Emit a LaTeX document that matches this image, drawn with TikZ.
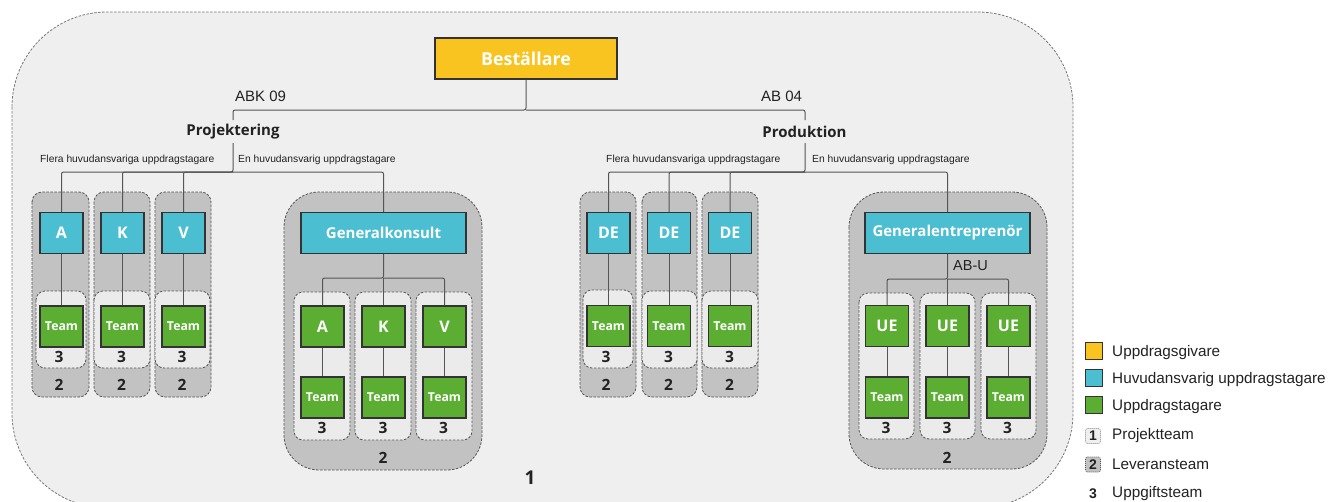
\documentclass[tikz,border=0pt]{standalone}
\usepackage{fontspec}
\setmainfont{Liberation Sans}
\newfontfamily\os{Open Sans}
\definecolor{yel}{HTML}{F9C41F}
\definecolor{blu}{HTML}{4BBED1}
\definecolor{grn}{HTML}{5BAE32}
\definecolor{outerfill}{HTML}{EFEFEF}
\definecolor{grayfill}{HTML}{C2C2C2}
\definecolor{lightfill}{HTML}{EBEBEB}
\definecolor{bord}{HTML}{333333}
\definecolor{lin}{HTML}{555555}
\definecolor{txt}{HTML}{222222}
\tikzset{
  box/.style={draw=bord, line width=1.3pt, inner sep=0pt, text=white,
    font=\os\bfseries\fontsize{15}{15}\selectfont, minimum height=41pt},
  ubox/.style={box, minimum width=43pt, font=\os\bfseries\fontsize{16}{16}\selectfont},
  wbox/.style={box, minimum width=165pt},
  teambox/.style={ubox, fill=grn, font=\os\bfseries\fontsize{12.3}{13}\selectfont},
  levbox/.style={draw=lin, line width=0.8pt, dash pattern=on 2.5pt off 1.5pt, fill=grayfill},
  uppbox/.style={draw=lin, line width=0.8pt, dash pattern=on 2.5pt off 1.5pt, fill=lightfill, rounded corners=9pt},
  num/.style={inner sep=0pt, text=txt, font=\os\bfseries\fontsize{15.5}{15.5}\selectfont},
  conn/.style={draw=lin, line width=1pt, rounded corners=2pt},
  smalllbl/.style={inner sep=0pt, text=txt, font=\fontsize{10.3}{11}\selectfont},
  lbl/.style={inner sep=0pt, text=txt, font=\fontsize{15}{16}\selectfont},
  leglbl/.style={lbl, font=\fontsize{15.3}{16}\selectfont},
  phase/.style={inner sep=0pt, text=txt, font=\os\bfseries\fontsize{15}{15}\selectfont},
  legsq/.style={draw=bord, line width=1pt, minimum width=17pt, minimum height=17pt, inner sep=0pt},
  legnum/.style={inner sep=0pt, text=txt, font=\bfseries\fontsize{14}{14}\selectfont, minimum width=15pt, minimum height=15pt, rounded corners=2pt},
}
\begin{document}
\begin{tikzpicture}[x=1pt,y=-1pt]
\useasboundingbox (0,0) rectangle (1338,501);
\fill[white] (0,0) rectangle (1338,501);
% outer project team
\begin{scope}
\clip (0,0) rectangle (1338,501);
\draw[fill=outerfill, draw=lin!80, line width=0.8pt, dash pattern=on 2.5pt off 1.5pt, rounded corners=95pt] (12,12) rectangle (1073,508);
\end{scope}
\node[num, font=\os\bfseries\fontsize{19}{19}\selectfont] (n1) at (530,478) {1};

% top
\node[box, fill=yel, minimum width=182pt, font=\os\bfseries\fontsize{17.8}{18}\selectfont] (best) at (526,58.5) {Beställare};
\coordinate (split) at (526,110);
\coordinate (pjtop) at (233,120);
\coordinate (prtop) at (805,120);
\draw[conn] (best.south) -- (split) -| (pjtop);
\draw[conn] (split) -| (prtop);
\node[lbl, anchor=west] (abk) at (235,96) {ABK 09};
\node[lbl, anchor=west] (ab04) at (761,96) {AB 04};
\node[phase] (proj) at (233,132) {Projektering};
\node[phase] (prod) at (804.5,132) {Produktion};
\coordinate (pjbot) at (233,143);
\coordinate (pjsplit) at (233,172);
\coordinate (prbot) at (805,143);
\coordinate (prsplit) at (805,172);
\node[smalllbl, anchor=west] (fl1) at (40,160) {Flera huvudansvariga uppdragstagare};
\node[smalllbl, anchor=west] (en1) at (238,160) {En huvudansvarig uppdragstagare};
\node[smalllbl, anchor=west] (fl2) at (606,160) {Flera huvudansvariga uppdragstagare};
\node[smalllbl, anchor=west] (en2) at (812,160) {En huvudansvarig uppdragstagare};

% ---------- left: three separate deliveries
\draw[levbox, rounded corners=10pt] (32,192) rectangle (89,397);
\draw[levbox, rounded corners=10pt] (94,192) rectangle (150,397);
\draw[levbox, rounded corners=10pt] (155,192) rectangle (211,397);
\draw[uppbox] (36,291) rectangle (86,368);
\draw[uppbox] (94,291) rectangle (150,368);
\draw[uppbox] (155,291) rectangle (210,368);
\node[ubox, fill=blu] (pA) at (61.5,233) {A};
\node[ubox, fill=blu] (pK) at (122.5,233) {K};
\node[ubox, fill=blu] (pV) at (183.5,233) {V};
\node[teambox] (tA) at (61.5,326.5) {Team};
\node[teambox] (tK) at (122.5,326.5) {Team};
\node[teambox] (tV) at (183.5,326.5) {Team};
\draw[conn] (pA) -- (tA);
\draw[conn] (pK) -- (tK);
\draw[conn] (pV) -- (tV);
\node[num] (u1) at (59,357) {3};
\node[num] (u2) at (121.5,357) {3};
\node[num] (u3) at (182,357) {3};
\node[num] (l1) at (59,385) {2};
\node[num] (l2) at (121.5,385) {2};
\node[num] (l3) at (182,385) {2};

% ---------- Generalkonsult
\draw[levbox, rounded corners=35pt] (284,192) rectangle (482,470);
\draw[uppbox] (294,292) rectangle (350,440);
\draw[uppbox] (355,292) rectangle (411,440);
\draw[uppbox] (416,292) rectangle (472,440);
\node[wbox, fill=blu] (gk) at (383.5,233) {Generalkonsult};
\node[ubox, fill=grn] (gA) at (322.5,326.5) {A};
\node[ubox, fill=grn] (gK) at (383.5,326.5) {K};
\node[ubox, fill=grn] (gV) at (444.5,326.5) {V};
\node[teambox] (gtA) at (322.5,397.5) {Team};
\node[teambox] (gtK) at (383.5,397.5) {Team};
\node[teambox] (gtV) at (444.5,397.5) {Team};
\coordinate (gksplit) at (383.5,278);
\draw[conn] (gk.south) -- (gksplit) -| (gA.north);
\draw[conn] (gksplit) -| (gV.north);
\draw[conn] (gksplit) -- (gK.north);
\draw[conn] (gA) -- (gtA);
\draw[conn] (gK) -- (gtK);
\draw[conn] (gV) -- (gtV);
\node[num] (gu1) at (322,428) {3};
\node[num] (gu2) at (383,428) {3};
\node[num] (gu3) at (443.5,428) {3};
\node[num] (gl) at (383,458) {2};

% projektering connectors
\draw[conn] (pjbot) -- (pjsplit) -| (pA.north);
\draw[conn] (pjsplit) -| (pK.north);
\draw[conn] (pjsplit) -| (pV.north);
\draw[conn] (pjsplit) -| (gk.north);

% ---------- right: DE
\draw[levbox, rounded corners=10pt] (580,192) rectangle (636,397);
\draw[levbox, rounded corners=10pt] (642,192) rectangle (697,397);
\draw[levbox, rounded corners=10pt] (702,192) rectangle (758,397);
\draw[uppbox] (583,290) rectangle (633,368);
\draw[uppbox] (642,291) rectangle (697,368);
\draw[uppbox] (702,291) rectangle (758,368);
\node[ubox, fill=blu] (d1) at (608.5,233) {DE};
\node[ubox, fill=blu] (d2) at (669,233) {DE};
\node[ubox, fill=blu] (d3) at (730,233) {DE};
\node[teambox] (dt1) at (608.5,326) {Team};
\node[teambox] (dt2) at (669,326) {Team};
\node[teambox] (dt3) at (730,326) {Team};
\draw[conn] (d1) -- (dt1);
\draw[conn] (d2) -- (dt2);
\draw[conn] (d3) -- (dt3);
\node[num] (du1) at (606,357) {3};
\node[num] (du2) at (668.5,357) {3};
\node[num] (du3) at (729.5,357) {3};
\node[num] (dl1) at (606,385) {2};
\node[num] (dl2) at (668.5,385) {2};
\node[num] (dl3) at (729.5,385) {2};

% ---------- Generalentreprenor
\draw[levbox, rounded corners=35pt] (849,192) rectangle (1047,469);
\draw[uppbox] (859,293) rectangle (914,439);
\draw[uppbox] (920,293) rectangle (975,439);
\draw[uppbox] (981,293) rectangle (1036,439);
\node[wbox, fill=blu] (ge) at (947.5,233) {Generalentreprenör};
\node[ubox, fill=grn] (ue1) at (887,326) {UE};
\node[ubox, fill=grn] (ue2) at (947.5,326) {UE};
\node[ubox, fill=grn] (ue3) at (1008.5,326) {UE};
\node[teambox] (et1) at (887,397.5) {Team};
\node[teambox] (et2) at (947.5,397.5) {Team};
\node[teambox] (et3) at (1008.5,397.5) {Team};
\coordinate (gesplit) at (947.5,279);
\draw[conn] (ge.south) -- (gesplit) -| (ue1.north);
\draw[conn] (gesplit) -| (ue3.north);
\draw[conn] (gesplit) -- (ue2.north);
\draw[conn] (ue1) -- (et1);
\draw[conn] (ue2) -- (et2);
\draw[conn] (ue3) -- (et3);
\node[lbl, anchor=west, font=\fontsize{14.5}{15}\selectfont] (abu) at (953,266) {AB-U};
\node[num] (eu1) at (886,428) {3};
\node[num] (eu2) at (947,428) {3};
\node[num] (eu3) at (1007.5,428) {3};
\node[num] (el) at (947,458) {2};

% produktion connectors
\draw[conn] (prbot) -- (prsplit) -| (d1.north);
\draw[conn] (prsplit) -| (d2.north);
\draw[conn] (prsplit) -| (d3.north);
\draw[conn] (prsplit) -| (ge.north);

% ---------- legend
\node[legsq, fill=yel] (ly) at (1093.5,350.5) {};
\node[legsq, fill=blu] (lb) at (1093.5,377.5) {};
\node[legsq, fill=grn] (lg) at (1093.5,404.5) {};
\node[legnum, draw=lin!70, fill=outerfill, dash pattern=on 1pt off 1pt, line width=0.6pt] (lp) at (1093,436) {1};
\node[legnum, draw=lin, fill=grayfill, dash pattern=on 1pt off 1pt, line width=0.6pt] (ll) at (1093,464.5) {2};
\node[legnum] (lu) at (1093,494) {3};
\node[leglbl, anchor=west] (tly) at (1112,353) {Uppdragsgivare};
\node[leglbl, anchor=west] (tlb) at (1112,380) {Huvudansvarig uppdragstagare};
\node[leglbl, anchor=west] (tlg) at (1112,407) {Uppdragstagare};
\node[leglbl, anchor=west] (tlp) at (1112,435.5) {Projektteam};
\node[leglbl, anchor=west] (tll) at (1112,464) {Leveransteam};
\node[leglbl, anchor=west] (tlu) at (1112,494) {Uppgiftsteam};
\end{tikzpicture}
\end{document}
